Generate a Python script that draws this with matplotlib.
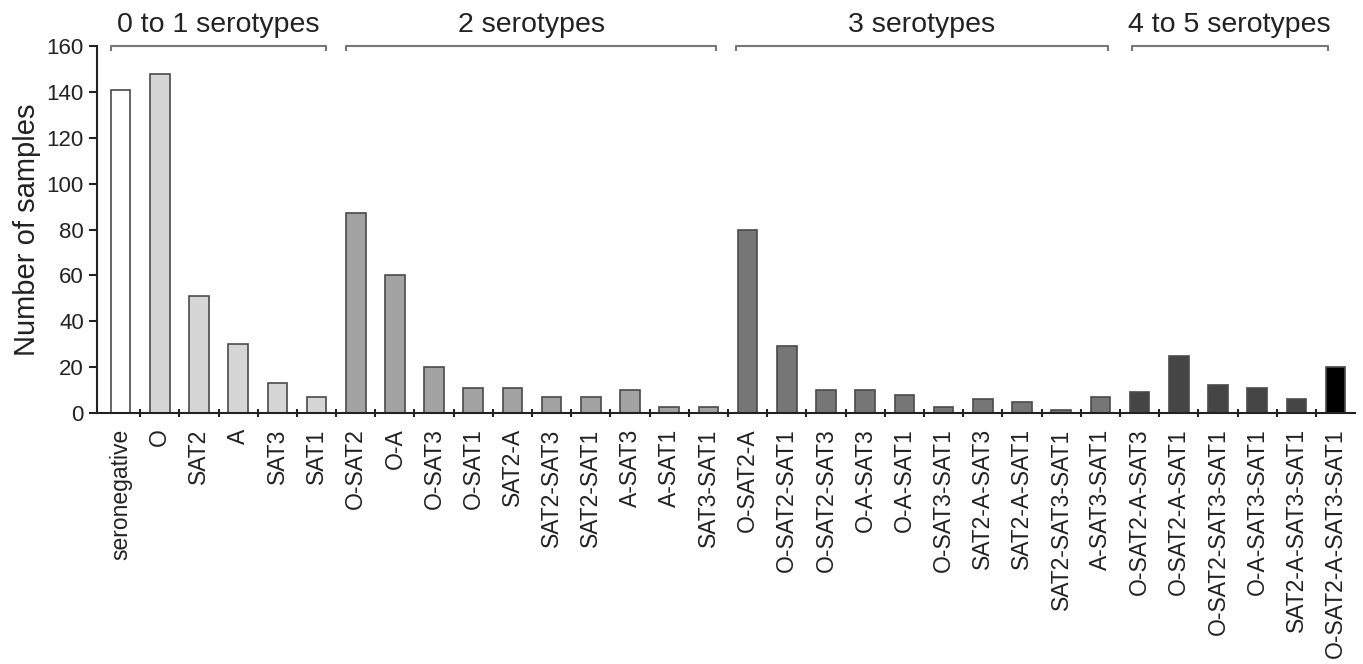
import numpy as np
import matplotlib
matplotlib.use("Agg")
import matplotlib.pyplot as plt

plt.rcParams['font.family'] = ['Liberation Sans', 'DejaVu Sans']

categories = ["seronegative", "O", "SAT2", "A", "SAT3", "SAT1",
              "O-SAT2", "O-A", "O-SAT3", "O-SAT1", "SAT2-A", "SAT2-SAT3",
              "SAT2-SAT1", "A-SAT3", "A-SAT1", "SAT3-SAT1",
              "O-SAT2-A", "O-SAT2-SAT1", "O-SAT2-SAT3", "O-A-SAT3", "O-A-SAT1",
              "O-SAT3-SAT1", "SAT2-A-SAT3", "SAT2-A-SAT1", "SAT2-SAT3-SAT1",
              "A-SAT3-SAT1",
              "O-SAT2-A-SAT3", "O-SAT2-A-SAT1", "O-SAT2-SAT3-SAT1",
              "O-A-SAT3-SAT1", "SAT2-A-SAT3-SAT1", "O-SAT2-A-SAT3-SAT1"]
counts = [141, 148, 51, 30, 13, 7,
          87, 60, 20, 11, 11, 7, 7, 10, 2.5, 2.5,
          80, 29, 10, 10, 8, 2.5, 6, 5, 1.5, 7,
          9, 25, 12, 11, 6, 20]
# shade of each bar (serotype count group)
shades = (["#ffffff"] + ["#d6d6d6"] * 5 + ["#a3a3a3"] * 10 + ["#767676"] * 10
          + ["#454545"] * 5 + ["#000000"])

group_names = ["0 to 1 serotypes", "2 serotypes", "3 serotypes", "4 to 5 serotypes"]
group_first = [0, 6, 16, 26]
group_last = [5, 15, 25, 31]
bracket_pad = [(0.25, 0.25), (0.25, 0.2), (0.3, 0.2), (0.2, -0.2)]

fig = plt.figure(figsize=(13.63, 6.64), dpi=100)
ax = fig.add_axes([0.0712, 0.378, 0.923, 0.5527])

x = np.arange(len(categories))
ax.bar(x, counts, width=0.5, color=shades, edgecolor="#4a4a4a", linewidth=1.2, zorder=2)

ax.set_xlim(-0.6, 31.5)
ax.set_ylim(0, 160)
ax.set_yticks(np.arange(0, 161, 20))
ax.tick_params(axis='y', labelsize=16, length=6, width=1.5, direction='out', colors='#222222')

ax.set_xticks(x)
ax.set_xticklabels(categories, rotation=90, fontsize=16.5, color='#222222')
ax.set_xticks(x[:-1] + 0.5, minor=True)
ax.tick_params(axis='x', which='major', length=0, pad=11)
ax.tick_params(axis='x', which='minor', length=6, width=1.5, direction='inout', color='#222222')

for s in ['top', 'right']:
    ax.spines[s].set_visible(False)
for s in ['left', 'bottom']:
    ax.spines[s].set_linewidth(1.5)
    ax.spines[s].set_color('#222222')

ax.set_ylabel("Number of samples", fontsize=21, color='#222222', labelpad=4)

# group brackets above the bars
for name, a, b, (pl, pr) in zip(group_names, group_first, group_last, bracket_pad):
    x0, x1 = a - pl, b + pr
    ax.plot([x0, x0, x1, x1], [158, 160, 160, 158], color='#777777', lw=1.5,
            clip_on=False, solid_capstyle='butt')
    ax.text((x0 + x1) / 2, 163.5, name, ha='center', va='bottom', fontsize=20.5,
            color='#222222', clip_on=False)

fig.savefig("out.png", dpi=100)
